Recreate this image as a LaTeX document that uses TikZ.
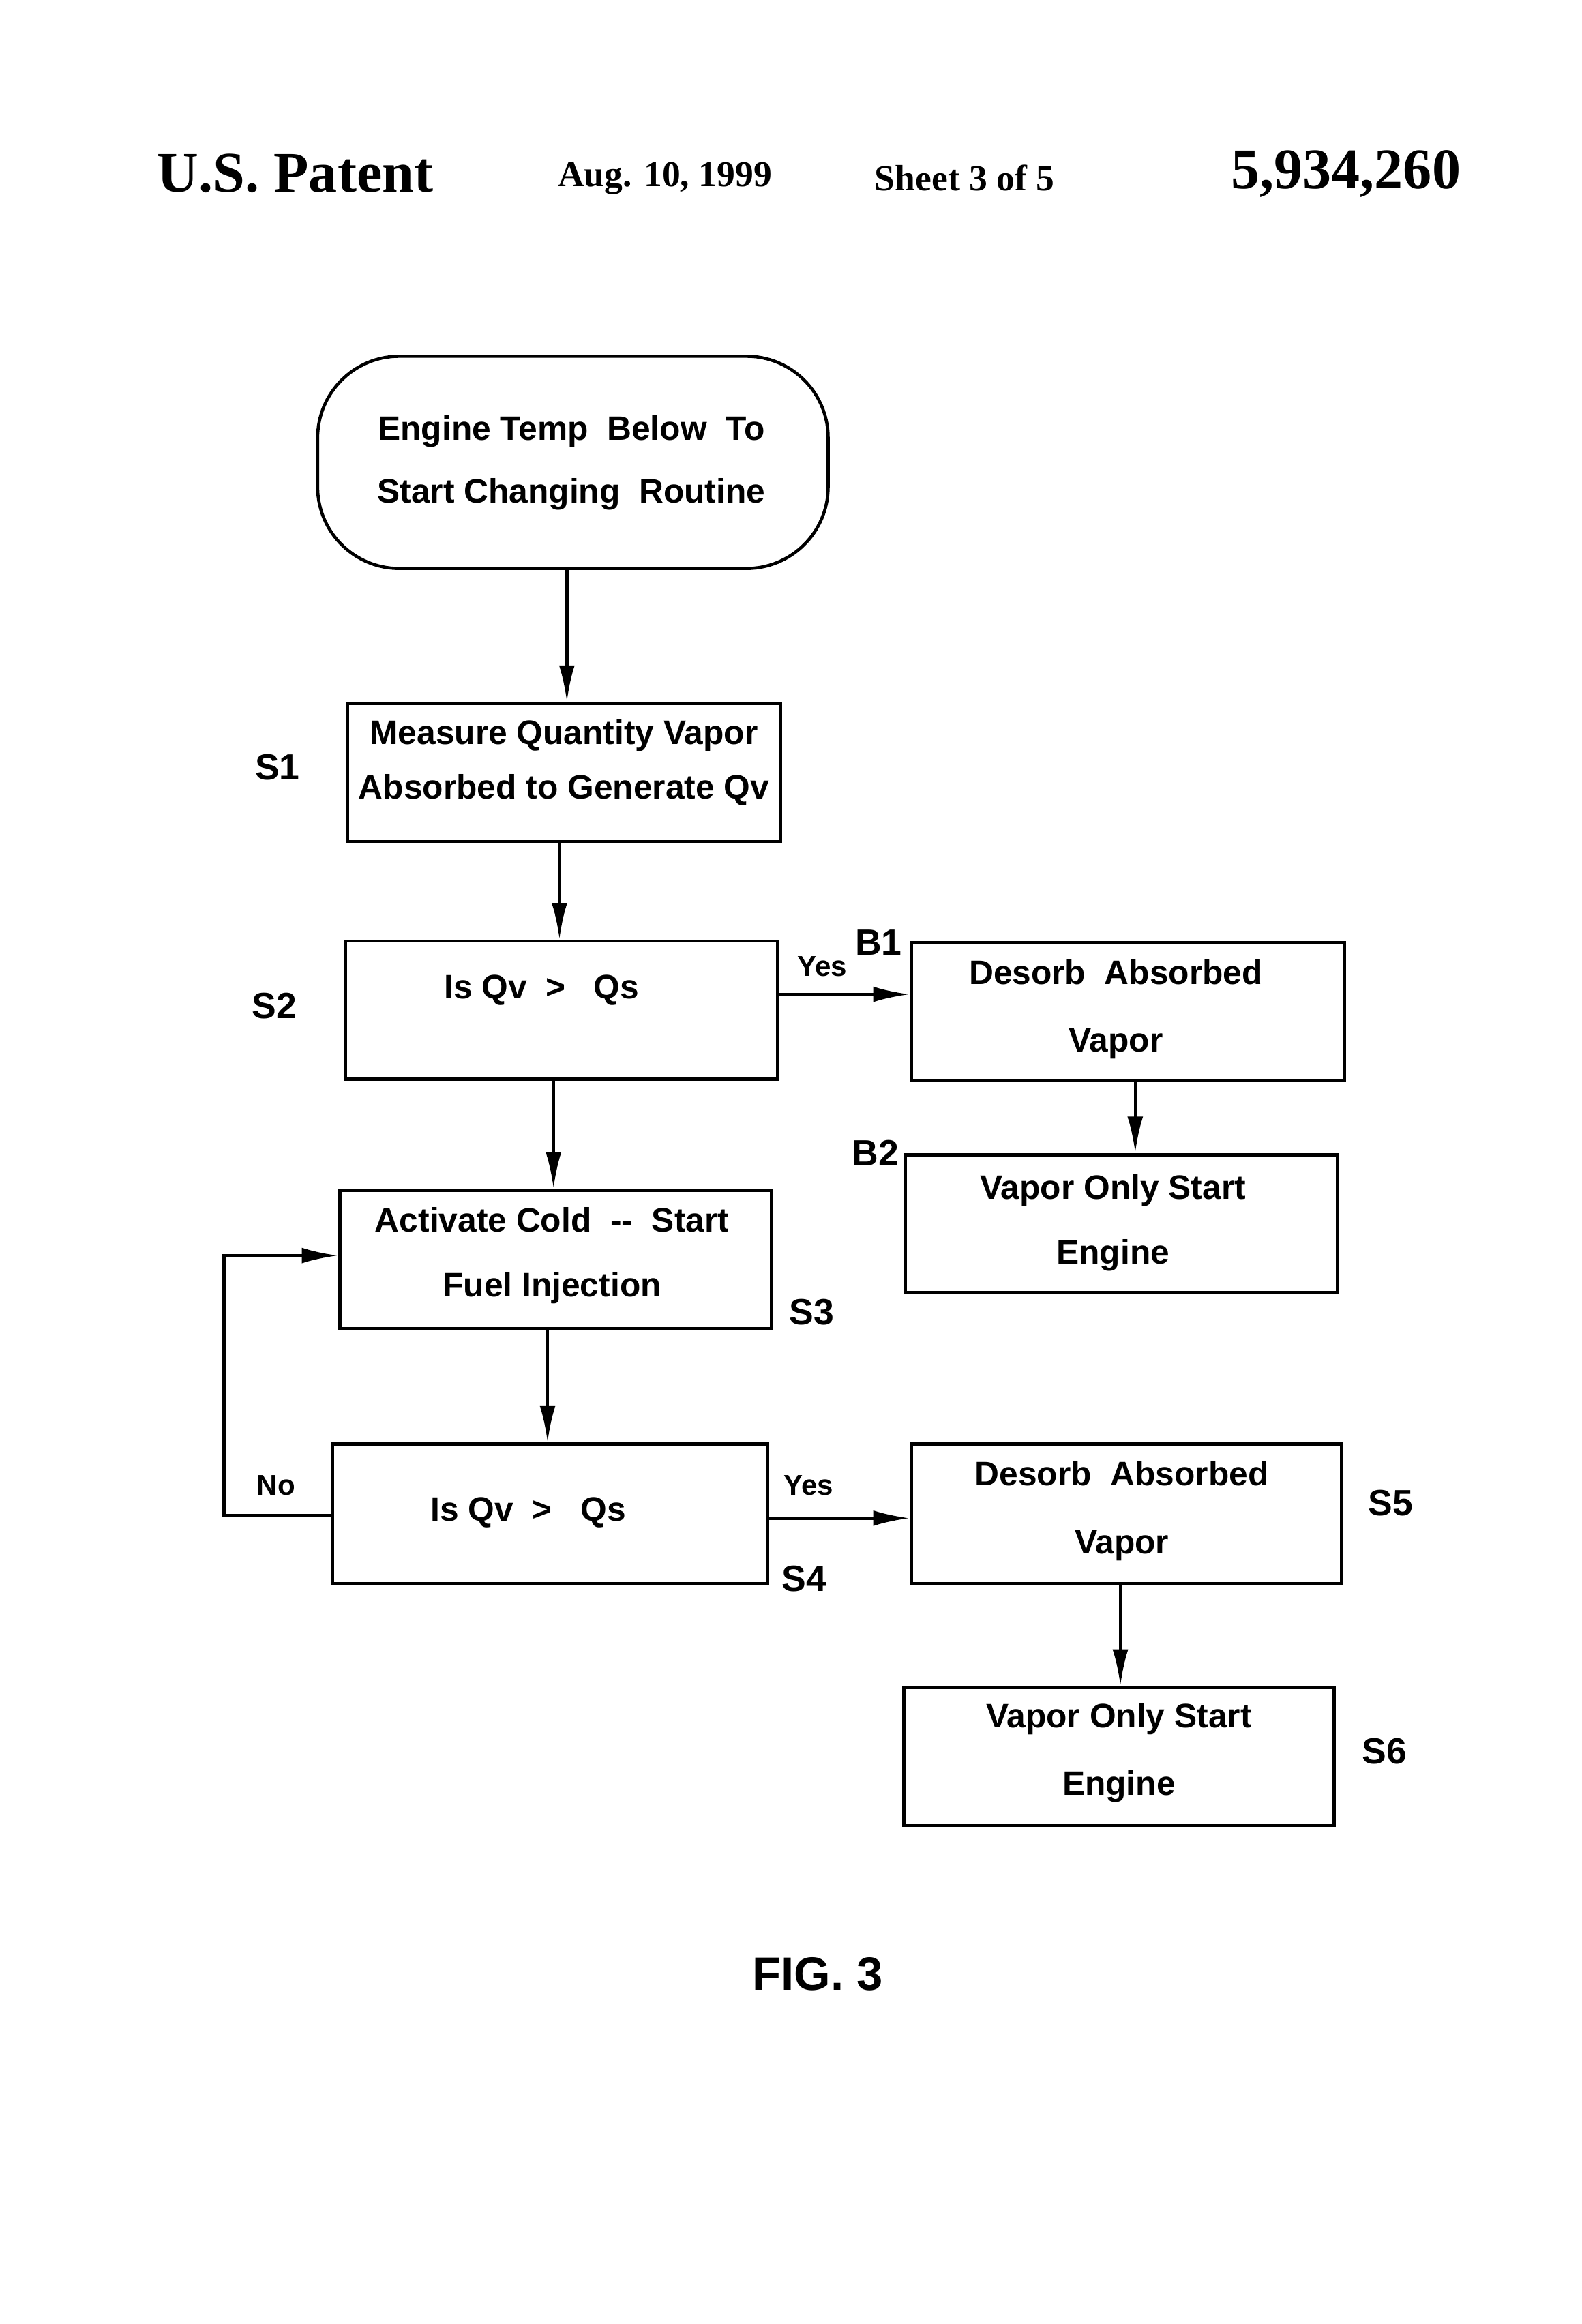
\documentclass[tikz,border=0pt]{standalone}
\usepackage{fontspec}
\setmainfont{Liberation Serif}
\newfontfamily\bx{Liberation Sans}
\usetikzlibrary{arrows.meta}
\begin{document}
\begin{tikzpicture}[x=0.02cm,y=-0.02cm,
 box/.style={draw,line width=1.2pt,anchor=north west,inner sep=0pt},
 txt/.style={font=\bx\bfseries\fontsize{13}{16}\selectfont,align=center},
 lab/.style={font=\bx\bfseries\fontsize{14}{17}\selectfont},
 arr/.style={line width=1.2pt,-{Latex[length=14pt,width=6pt]}},
 ln/.style={line width=1.2pt}]
\useasboundingbox (0,0) rectangle (1066,1566);
\node[font=\bfseries\fontsize{22}{26}\selectfont] (h1) at (199,117) {U.S. Patent};
\node[font=\bfseries\fontsize{14}{17}\selectfont] (h2) at (448,120) {Aug. 10, 1999};
\node[font=\bfseries\fontsize{14}{17}\selectfont] (h3) at (650,120) {Sheet 3 of 5};
\node[font=\bfseries\fontsize{22}{26}\selectfont] (h4) at (907,117) {5,934,260};
\node[box,rounded corners=1.1cm,minimum width=344*0.02cm,minimum height=143*0.02cm] (st) at (213,239) {};
\node[txt] (stt) at (385,312) {Engine Temp\ \ Below\ \ To\\[8pt]Start Changing\ \ Routine};
\node[box,minimum width=292*0.02cm,minimum height=93*0.02cm] (s1) at (233,473) {};
\node[txt] (s1t) at (380,514) {Measure\ Quantity Vapor\\[5pt]Absorbed\ to\ Generate\ Qv};
\node[box,minimum width=291*0.02cm,minimum height=93*0.02cm] (s2) at (232,633) {};
\node[txt] (s2t) at (365,667) {Is Qv \ >\ \ \ Qs};
\node[box,minimum width=292*0.02cm,minimum height=93*0.02cm] (b1) at (613,634) {};
\node[txt] (b1t) at (752,680) {Desorb\ \ Absorbed\\[10pt]Vapor};
\node[box,minimum width=291*0.02cm,minimum height=93*0.02cm] (b2) at (609,777) {};
\node[txt] (b2t) at (750,824) {Vapor Only Start\\[9pt]Engine};
\node[box,minimum width=291*0.02cm,minimum height=93*0.02cm] (s3) at (228,801) {};
\node[txt] (s3t) at (372,846) {Activate Cold\ \ --\ \ Start\\[9pt]Fuel Injection};
\node[box,minimum width=293*0.02cm,minimum height=94*0.02cm] (s4) at (223,972) {};
\node[txt] (s4t) at (356,1019) {Is Qv \ >\ \ \ Qs};
\node[box,minimum width=290*0.02cm,minimum height=94*0.02cm] (s5) at (613,972) {};
\node[txt] (s5t) at (756,1018) {Desorb\ \ Absorbed\\[10pt]Vapor};
\node[box,minimum width=290*0.02cm,minimum height=93*0.02cm] (s6) at (608,1136) {};
\node[txt] (s6t) at (754,1181) {Vapor Only Start\\[10pt]Engine};
\node[lab] (l1) at (187,517) {S1};
\node[lab] (l2) at (185,678) {S2};
\node[lab] (l3) at (547,884) {S3};
\node[lab] (l4) at (542,1064) {S4};
\node[lab] (l5) at (937,1013) {S5};
\node[lab] (l6) at (933,1180) {S6};
\node[lab] (lb1) at (592,635) {B1};
\node[lab] (lb2) at (590,777) {B2};
\node[lab,font=\bx\bfseries\fontsize{11}{13}\selectfont] (y1) at (554,651) {Yes};
\node[lab,font=\bx\bfseries\fontsize{11}{13}\selectfont] (y2) at (545,1001) {Yes};
\node[lab,font=\bx\bfseries\fontsize{11}{13}\selectfont] (no) at (186,1001) {No};
\node[font=\bx\bfseries\fontsize{18}{22}\selectfont] (fig) at (551,1330) {FIG. 3};
\draw[arr] (st.south -| 382,0) -- (s1.north -| 382,0);
\draw[arr] (s1.south -| 377,0) -- (s2.north -| 377,0);
\draw[arr] (s2.south -| 373,0) -- (s3.north -| 373,0);
\draw[arr] (s3.south -| 369,0) -- (s4.north -| 369,0);
\draw[arr] (s2.east |- 0,670) -- (b1.west |- 0,670);
\draw[arr] (b1.south -| 765,0) -- (b2.north -| 765,0);
\draw[arr] (s4.east |- 0,1023) -- (s5.west |- 0,1023);
\draw[arr] (s5.south -| 755,0) -- (s6.north -| 755,0);
\draw[arr] (s4.west |- 0,1021) -- (151,1021) -- (151,846) -- (s3.west |- 0,846);
\end{tikzpicture}
\end{document}
